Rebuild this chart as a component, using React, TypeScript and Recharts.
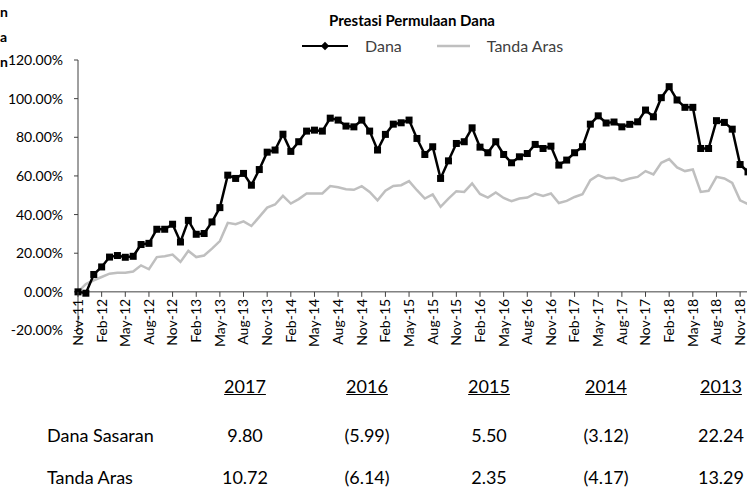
import React from 'react';
import { LineChart, Line, XAxis, YAxis, Legend, ReferenceLine } from 'recharts';

// month categories, Nov-11 .. Dec-18
const MONTHS = [
  'Nov-11', 'Dec-11',
  'Jan-12', 'Feb-12', 'Mar-12', 'Apr-12', 'May-12', 'Jun-12', 'Jul-12', 'Aug-12', 'Sep-12', 'Oct-12', 'Nov-12', 'Dec-12',
  'Jan-13', 'Feb-13', 'Mar-13', 'Apr-13', 'May-13', 'Jun-13', 'Jul-13', 'Aug-13', 'Sep-13', 'Oct-13', 'Nov-13', 'Dec-13',
  'Jan-14', 'Feb-14', 'Mar-14', 'Apr-14', 'May-14', 'Jun-14', 'Jul-14', 'Aug-14', 'Sep-14', 'Oct-14', 'Nov-14', 'Dec-14',
  'Jan-15', 'Feb-15', 'Mar-15', 'Apr-15', 'May-15', 'Jun-15', 'Jul-15', 'Aug-15', 'Sep-15', 'Oct-15', 'Nov-15', 'Dec-15',
  'Jan-16', 'Feb-16', 'Mar-16', 'Apr-16', 'May-16', 'Jun-16', 'Jul-16', 'Aug-16', 'Sep-16', 'Oct-16', 'Nov-16', 'Dec-16',
  'Jan-17', 'Feb-17', 'Mar-17', 'Apr-17', 'May-17', 'Jun-17', 'Jul-17', 'Aug-17', 'Sep-17', 'Oct-17', 'Nov-17', 'Dec-17',
  'Jan-18', 'Feb-18', 'Mar-18', 'Apr-18', 'May-18', 'Jun-18', 'Jul-18', 'Aug-18', 'Sep-18', 'Oct-18', 'Nov-18', 'Dec-18',
];

// cumulative return, %
const DANA = [
  0, -0.7,
  9.0, 12.9, 18.0, 18.8, 17.9, 18.4, 24.5, 25.1, 32.4, 32.4, 35.0, 25.8,
  37.0, 29.8, 30.2, 36.2, 43.6, 60.4, 58.7, 61.3, 55.2, 63.3, 72.3, 73.4,
  81.6, 72.7, 77.7, 83.2, 83.7, 83.2, 89.9, 88.9, 85.8, 85.4, 88.9, 83.2,
  73.4, 81.5, 86.8, 87.5, 88.9, 79.4, 71.1, 75.1, 58.7, 67.8, 76.8, 77.7,
  84.9, 74.9, 72.0, 77.7, 71.1, 66.8, 69.9, 71.6, 76.3, 74.2, 75.4, 65.6,
  68.2, 72.0, 75.1, 86.8, 91.1, 87.4, 87.9, 85.4, 86.7, 88.0, 94.1, 90.6,
  100.5, 106.2, 99.3, 95.5, 95.5, 74.2, 74.2, 88.6, 87.7, 84.2, 65.9, 62.1,
];

const TANDA_ARAS = [
  0, 4.0,
  6.0, 7.7, 9.4, 9.9, 9.9, 10.5, 13.7, 11.7, 18.0, 18.4, 19.3, 15.5,
  21.2, 18.0, 18.8, 22.4, 26.3, 35.7, 35.0, 36.5, 34.1, 38.8, 43.6, 45.2,
  49.7, 45.7, 48.0, 50.9, 50.9, 50.9, 54.8, 54.1, 53.1, 52.8, 54.7, 51.7,
  47.4, 52.3, 54.8, 55.2, 57.3, 52.6, 48.3, 50.4, 44.0, 48.3, 52.1, 51.7,
  56.1, 50.7, 48.8, 51.4, 48.6, 46.9, 48.3, 48.8, 50.9, 49.7, 50.9, 46.0,
  47.1, 49.1, 50.5, 57.8, 60.4, 58.8, 59.0, 57.4, 58.7, 59.5, 62.5, 60.8,
  66.8, 68.7, 64.4, 62.5, 63.3, 51.7, 52.3, 59.5, 58.7, 56.4, 47.4, 45.4,
];

const Y_TICKS = [-20, 0, 20, 40, 60, 80, 100, 120];

// table below the chart
const YEARS = ['2017', '2016', '2015', '2014', '2013'];
const DANA_SASARAN = ['9.80', '(5.99)', '5.50', '(3.12)', '22.24'];
const TANDA_ARAS_ROW = ['10.72', '(6.14)', '2.35', '(4.17)', '13.29'];
const COL_X = [245, 367, 489, 606, 721];

const data = MONTHS.map((m, i) => ({ month: m, dana: DANA[i], aras: TANDA_ARAS[i] }));

const FONT = 'Lato, "Open Sans", sans-serif';
const CHART_W = 748;
const CHART_H = 370;
const TOP = 60;
const X_AXIS_H = 39.5;
const PLOT_H = CHART_H - TOP - X_AXIS_H;
const Y_MIN = -20;
const Y_MAX = 120;
const ZERO_SHIFT = (PLOT_H * (0 - Y_MIN)) / (Y_MAX - Y_MIN);

const MonthTick = (props: any) => {
  const { x, y, payload } = props;
  const y0 = y - ZERO_SHIFT;
  const ty = y0 + 7;
  return (
    <g>
      <line x1={x} x2={x} y1={y0} y2={y0 + 5} stroke="#404040" />
      <text
        x={x}
        y={ty}
        transform={`rotate(-90 ${x} ${ty})`}
        textAnchor="end"
        dy="0.35em"
        fontSize={14}
        fontFamily={FONT}
        fill="#000"
      >
        {payload.value}
      </text>
    </g>
  );
};

const SquareDot = (props: any) => {
  const { cx, cy } = props;
  if (cx == null || cy == null) return null;
  return <rect x={cx - 3.5} y={cy - 3.5} width={7} height={7} fill="#000" />;
};

const LegendContent = () => (
  <div style={{ display: 'flex', alignItems: 'center', paddingLeft: 302, fontSize: 16, color: '#404040', fontFamily: FONT }}>
    <svg width={46} height={10}>
      <line x1={0} x2={46} y1={5} y2={5} stroke="#000" strokeWidth={2} />
      <rect x={20} y={2} width={6} height={6} fill="#000" transform="rotate(45 23 5)" />
    </svg>
    <span style={{ marginLeft: 17 }}>Dana</span>
    <svg width={33} height={10} style={{ marginLeft: 35 }}>
      <line x1={0} x2={33} y1={5} y2={5} stroke="#bfbfbf" strokeWidth={2.5} />
    </svg>
    <span style={{ marginLeft: 17 }}>Tanda Aras</span>
  </div>
);

const cell = (x: number, y: number): React.CSSProperties => ({
  position: 'absolute',
  left: x,
  top: y,
  transform: 'translate(-50%, -50%)',
  whiteSpace: 'nowrap',
});

export default function App() {
  return (
    <div
      style={{
        position: 'absolute',
        left: 0,
        top: 0,
        width: 747,
        height: 487,
        overflow: 'hidden',
        background: '#fff',
        fontFamily: FONT,
        color: '#000',
      }}
    >
      {/* axis title remnants at the left edge */}
      <div style={{ position: 'absolute', left: 0, top: -1, fontSize: 14, fontWeight: 700, lineHeight: '25px' }}>
        <div>n</div>
        <div>a</div>
        <div>n</div>
      </div>
      <div style={{ ...cell(412, 20), fontSize: 15, fontWeight: 700 }}>Prestasi Permulaan Dana</div>

      <div style={{ position: 'absolute', left: 0, top: 0 }}>
        <LineChart width={CHART_W} height={CHART_H} data={data} margin={{ top: TOP, right: 0, bottom: 0, left: 0 }}>
          <XAxis
            dataKey="month"
            interval={2}
            height={X_AXIS_H}
            axisLine={false}
            tickLine={false}
            tickSize={0}
            tickMargin={0}
            tick={<MonthTick />}
          />
          <YAxis
            width={78}
            domain={[Y_MIN, Y_MAX]}
            ticks={Y_TICKS}
            allowDataOverflow
            tickSize={4}
            tickMargin={11}
            tickFormatter={(v: number) => `${v.toFixed(2)}%`}
            tick={{ fontSize: 14, fill: '#000', fontFamily: FONT }}
            axisLine={{ stroke: '#404040' }}
            tickLine={{ stroke: '#404040' }}
          />
          <ReferenceLine y={0} stroke="#404040" />
          <Legend
            layout="horizontal"
            verticalAlign="middle"
            align="center"
            wrapperStyle={{ top: 36, left: 0, width: CHART_W }}
            content={<LegendContent />}
          />
          <Line
            dataKey="aras"
            name="Tanda Aras"
            stroke="#bfbfbf"
            strokeWidth={2.5}
            dot={false}
            isAnimationActive={false}
          />
          <Line
            dataKey="dana"
            name="Dana"
            stroke="#000"
            strokeWidth={2.5}
            dot={<SquareDot />}
            isAnimationActive={false}
          />
        </LineChart>
      </div>

      {YEARS.map((yr, i) => (
        <div key={yr} style={{ ...cell(COL_X[i], 386), fontSize: 18, textDecoration: 'underline' }}>
          {yr}
        </div>
      ))}
      <div style={{ position: 'absolute', left: 47, top: 435, transform: 'translateY(-50%)', fontSize: 18 }}>Dana Sasaran</div>
      {DANA_SASARAN.map((v, i) => (
        <div key={'d' + i} style={{ ...cell(COL_X[i], 435), fontSize: 18 }}>
          {v}
        </div>
      ))}
      <div style={{ position: 'absolute', left: 47, top: 477, transform: 'translateY(-50%)', fontSize: 18 }}>Tanda Aras</div>
      {TANDA_ARAS_ROW.map((v, i) => (
        <div key={'t' + i} style={{ ...cell(COL_X[i], 477), fontSize: 18 }}>
          {v}
        </div>
      ))}
    </div>
  );
}
